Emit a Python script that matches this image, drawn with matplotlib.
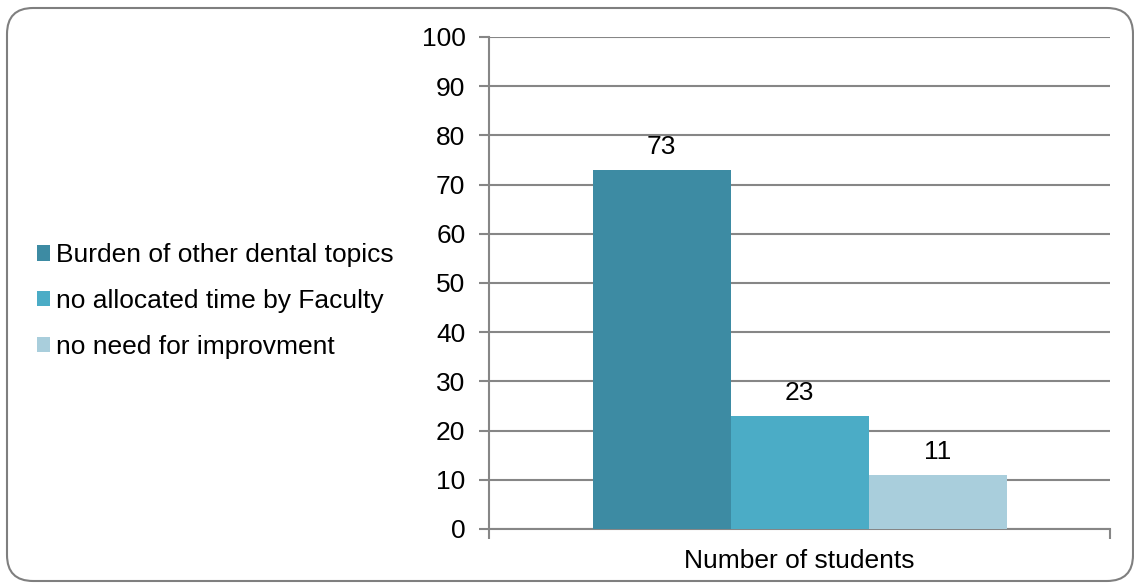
import matplotlib
matplotlib.use("Agg")
import matplotlib.pyplot as plt
from matplotlib.patches import FancyBboxPatch, Patch

categories = ["Number of students"]
series_names = ["Burden of other dental topics",
                "no allocated time by Faculty",
                "no need for improvment"]
series_values = [73, 23, 11]
colors = ["#3D8BA3", "#4BACC6", "#A9CEDC"]
y_ticks = list(range(0, 101, 10))

plt.rcParams["font.family"] = ["Liberation Sans", "DejaVu Sans"]
FS = 19
GRID = "#868686"

fig = plt.figure(figsize=(11.34, 5.84), dpi=100)

# rounded chart-area border
border = FancyBboxPatch((7 / 1134, 1 - 581 / 584), 1126 / 1134, 573 / 584,
                        boxstyle="round,pad=0,rounding_size=0.023",
                        transform=fig.transFigure, facecolor="white",
                        edgecolor="#7F7F7F", linewidth=1.5,
                        mutation_aspect=1134 / 584, zorder=-5)
fig.patches.append(border)

ax = fig.add_axes([489 / 1134, 1 - 529 / 584, 621 / 1134, 492 / 584])
ax.set_zorder(2)
ax.set_facecolor("none")

n = len(series_values)
w = 1 / 4.5
for i, (name, val, col) in enumerate(zip(series_names, series_values, colors)):
    x = (i - (n - 1) / 2) * w
    ax.bar(x, val, width=w, color=col, label=name, zorder=3)
    ax.annotate(str(val), (x, val), xytext=(0, 8), textcoords="offset points",
                ha="center", va="bottom", fontsize=FS, color="black")

ax.set_xlim(-0.5, 0.5)
ax.set_ylim(0, 100)
ax.set_yticks(y_ticks)
ax.set_yticklabels([str(t) for t in y_ticks], fontsize=FS)
ax.yaxis.grid(True, color=GRID, linewidth=1.5, zorder=0)
ax.set_axisbelow(True)

ax.set_xticks([-0.5, 0.5])
ax.set_xticklabels(["", ""])
ax.tick_params(axis="x", length=7, width=1.5, color=GRID, direction="out")
ax.tick_params(axis="y", length=7, width=1.5, color=GRID, direction="out", pad=10)
ax.text(0, -0.04, categories[0], transform=ax.get_xaxis_transform(),
        ha="center", va="top", fontsize=FS)

for side in ["top", "right"]:
    ax.spines[side].set_visible(False)
for side in ["left", "bottom"]:
    ax.spines[side].set_color(GRID)
    ax.spines[side].set_linewidth(1.5)

handles = [Patch(facecolor=c, edgecolor="none") for c in colors]
fig.legend(handles, series_names, loc="center left",
           bbox_to_anchor=(26 / 1134, 1 - 301 / 584), frameon=False,
           fontsize=FS, handlelength=0.52, handleheight=0.52,
           handletextpad=0.22, labelspacing=0.82, borderaxespad=0)

fig.savefig("out.png", dpi=100)
